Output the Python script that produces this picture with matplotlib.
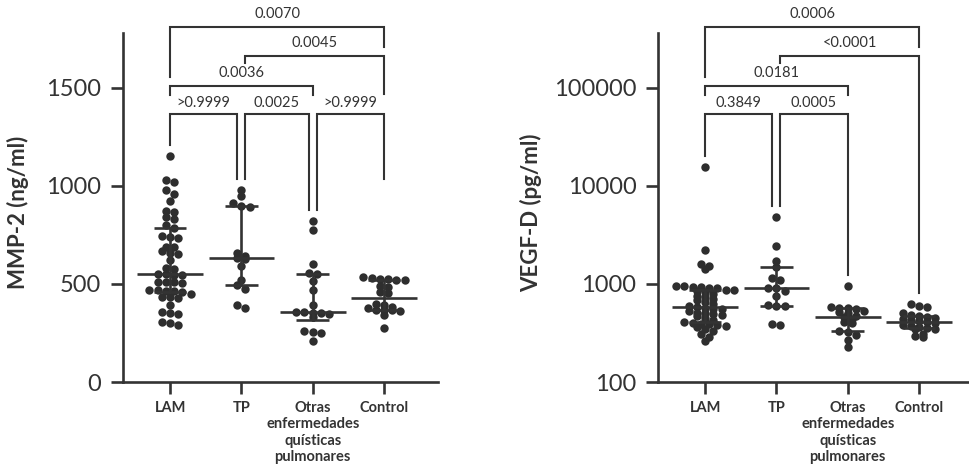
import numpy as np
import matplotlib
matplotlib.use("Agg")
import matplotlib.pyplot as plt
from matplotlib.transforms import blended_transform_factory

plt.rcParams["font.family"] = ["Lato", "DejaVu Sans"]

# ---------------------------------------------------------------- data
categories = ["LAM", "TP", "Otras\nenfermedades\nquísticas\npulmonares", "Control"]

mmp2_lam = [1151, 1030, 1022, 977, 960, 922, 871, 866, 841, 833, 799, 785,
            743, 739, 736, 690, 686, 666, 658, 651, 624, 582, 578, 553, 550,
            548, 545, 512, 510, 508, 505, 470, 468, 465, 462, 460, 450, 435,
            432, 430, 395, 355, 350, 345, 305, 300, 290]
mmp2_tp = [980, 951, 912, 900, 892, 658, 641, 632, 628, 590, 522, 493, 476,
           392, 378]
mmp2_otras = [819, 773, 604, 558, 549, 515, 468, 392, 358, 355, 352, 350, 348,
              332, 259, 256, 252, 208]
mmp2_control = [535, 528, 525, 523, 520, 518, 488, 485, 459, 455, 400, 395,
                383, 375, 368, 366, 365, 362, 341, 273]

vegfd_lam = [15700, 2240, 1600, 1510, 1430, 950, 945, 935, 925, 915, 900, 875,
             860, 850, 820, 790, 760, 740, 700, 680, 660, 630, 600, 582, 570,
             560, 550, 530, 510, 500, 490, 480, 470, 450, 430, 410, 400, 395,
             390, 385, 375, 360, 345, 330, 312, 288, 265]
vegfd_tp = [4840, 2460, 1730, 1480, 1155, 1100, 910, 900, 850, 745, 605, 600,
            590, 395, 380]
vegfd_otras = [944, 580, 575, 570, 560, 530, 520, 500, 470, 460, 440, 410, 400,
               330, 325, 300, 267, 225]
vegfd_control = [630, 600, 580, 500, 480, 470, 460, 450, 440, 430, 415, 405,
                 400, 385, 370, 360, 355, 350, 345, 310, 295, 285]

mmp2_ticks = [0, 500, 1000, 1500]
mmp2_ticklabels = ["0", "500", "1000", "1500"]
vegfd_ticks = [100, 1000, 10000, 100000]
vegfd_ticklabels = ["100", "1000", "10000", "100000"]

# comparisons: (group a, group b, p-value text)
mmp2_tests = [(0, 3, "0.0070"), (1, 3, "0.0045"), (0, 2, "0.0036"),
              (0, 1, ">0.9999"), (1, 2, "0.0025"), (2, 3, ">0.9999")]
vegfd_tests = [(0, 3, "0.0006"), (1, 3, "<0.0001"), (0, 2, "0.0181"),
               (0, 1, "0.3849"), (1, 2, "0.0005")]

# ---------------------------------------------------------------- style
INK = "#333333"
DOT = "#2e2e2e"
W, H = 970, 473
DPI = 100

fig = plt.figure(figsize=(W / DPI, H / DPI), dpi=DPI)


def axes_px(left, top, right, bottom):
    return fig.add_axes([left / W, 1 - bottom / H, (right - left) / W,
                         (bottom - top) / H])


def style_axes(ax):
    for s in ("top", "right"):
        ax.spines[s].set_visible(False)
    for s in ("left", "bottom"):
        ax.spines[s].set_linewidth(1.9)
        ax.spines[s].set_color(INK)
    ax.tick_params(axis="both", which="major", length=8.6, width=1.9,
                   color=INK, labelcolor=INK)
    ax.tick_params(axis="y", labelsize=17, pad=7)
    ax.tick_params(axis="x", pad=5)
    ax.tick_params(which="minor", length=0)
    ax.set_xlim(-0.66, 3.757)
    ax.set_xticks(range(len(categories)))
    ax.set_xticklabels(categories, fontsize=10.5, fontweight="bold",
                       linespacing=1.22, va="top")
    ax.patch.set_visible(False)


def swarm_offsets(ypx, diam, row_h):
    """Row-binned scatter: points closer than row_h share a row and are
    spread side by side, centred on the group."""
    order = np.argsort(ypx)
    rows, start = [], None
    for i in order:
        if start is None or ypx[i] - start > row_h:
            rows.append([])
            start = ypx[i]
        rows[-1].append(i)
    out = np.zeros(len(ypx))
    for row in rows:
        n = len(row)
        for k, i in enumerate(row):
            out[i] = (k - (n - 1) / 2.0) * diam
    return out


def draw_groups(ax, groups):
    diam_px = 8.4
    ppu = (ax.transData.transform((1, 0)) - ax.transData.transform((0, 0)))[0]
    for gi, vals in enumerate(groups):
        vals = np.asarray(vals, dtype=float)
        ypx = ax.transData.transform(np.column_stack([np.zeros_like(vals),
                                                      vals]))[:, 1]
        offs = swarm_offsets(-ypx, diam_px * 0.98, diam_px * 0.55) / ppu
        ax.plot(gi + offs, vals, "o", ms=diam_px * 72 / DPI, color=DOT,
                mec="none", zorder=3, clip_on=False)
        q1, med, q3 = np.percentile(vals, [25, 50, 75], method="weibull")
        lw = 1.9
        ax.plot([gi - 0.46, gi + 0.46], [med, med], color=INK, lw=lw,
                zorder=4, solid_capstyle="butt")
        ax.plot([gi - 0.23, gi + 0.23], [q1, q1], color=INK, lw=lw, zorder=4,
                solid_capstyle="butt")
        ax.plot([gi - 0.23, gi + 0.23], [q3, q3], color=INK, lw=lw, zorder=4,
                solid_capstyle="butt")
        ax.plot([gi, gi], [q1, q3], color=INK, lw=lw, zorder=4)


def group_top_frac(ax, vals, gap_px=11):
    top = max(vals)
    ypx = ax.transData.transform((0, top))[1] + gap_px
    return ax.transAxes.inverted().transform((0, ypx))[1]


def draw_brackets(ax, groups, specs):
    tr = blended_transform_factory(ax.transData, ax.transAxes)
    for x1, x2, y, leg1, leg2, ty, txt in specs:
        l1 = group_top_frac(ax, groups[leg1[1]]) if leg1[0] is None else leg1[0]
        l2 = group_top_frac(ax, groups[leg2[1]]) if leg2[0] is None else leg2[0]
        ax.plot([x1, x1, x2, x2], [l1, y, y, l2], color=INK, lw=1.5,
                transform=tr, clip_on=False, solid_joinstyle="miter",
                zorder=2)
        ax.text((x1 + x2) / 2, ty, txt, transform=tr, ha="center",
                va="center", fontsize=10.5, color=INK)


SH = 0.056  # offset where two neighbouring brackets share a group

# ---------------------------------------------------------------- MMP-2
ax1 = axes_px(123, 33, 438, 382)
style_axes(ax1)
ax1.set_ylim(0, 1780)
ax1.set_yticks(mmp2_ticks)
ax1.set_yticklabels(mmp2_ticklabels)
g1 = [mmp2_lam, mmp2_tp, mmp2_otras, mmp2_control]
draw_groups(ax1, g1)

# levels (axes fraction): bracket line, leg ends, text centre
lvl = [1.0172, 0.934, 0.848, 0.768]
txt = [1.054, 0.971, 0.885, 0.799]
specs1 = [
    (0, 3, lvl[0], (0.874, 0), (0.960, 3), txt[0], mmp2_tests[0][2]),
    (1 + SH, 3, lvl[1], (0.914, 1), (0.825, 3), txt[1], mmp2_tests[1][2]),
    (0, 2, lvl[2], (0.822, 0), (0.822, 2), txt[2], mmp2_tests[2][2]),
    (0, 1 - SH, lvl[3], (None, 0), (None, 1), txt[3], mmp2_tests[3][2]),
    (1 + SH, 2 - SH, lvl[3], (None, 1), (None, 2), txt[3], mmp2_tests[4][2]),
    (2 + SH, 3, lvl[3], (None, 2), (0.582, 3), txt[3], mmp2_tests[5][2]),
]
draw_brackets(ax1, g1, specs1)
fig.text(25 / W, 1 - 212 / H, "MMP-2 (ng/ml)", rotation=90,
         rotation_mode="anchor", ha="center", va="baseline", fontsize=16,
         fontweight="bold", color=INK)

# ---------------------------------------------------------------- VEGF-D
ax2 = axes_px(658, 33, 973, 382)
style_axes(ax2)
ax2.set_yscale("log")
ax2.set_ylim(100, 10 ** 5.56)
ax2.set_yticks(vegfd_ticks)
ax2.set_yticklabels(vegfd_ticklabels)
ax2.yaxis.set_minor_locator(matplotlib.ticker.NullLocator())
g2 = [vegfd_lam, vegfd_tp, vegfd_otras, vegfd_control]
draw_groups(ax2, g2)
specs2 = [
    (0, 3, lvl[0], (0.874, 0), (0.960, 3), txt[0], vegfd_tests[0][2]),
    (1 + SH, 3, lvl[1], (0.914, 1), (None, 3), txt[1], vegfd_tests[1][2]),
    (0, 2, lvl[2], (0.822, 0), (0.822, 2), txt[2], vegfd_tests[2][2]),
    (0, 1 - SH, lvl[3], (None, 0), (None, 1), txt[3], vegfd_tests[3][2]),
    (1 + SH, 2, lvl[3], (None, 1), (None, 2), txt[3], vegfd_tests[4][2]),
]
draw_brackets(ax2, g2, specs2)
fig.text(538 / W, 1 - 213 / H, "VEGF-D (pg/ml)", rotation=90,
         rotation_mode="anchor", ha="center", va="baseline", fontsize=16,
         fontweight="bold", color=INK)

fig.savefig("out.png", dpi=DPI, facecolor="white")
